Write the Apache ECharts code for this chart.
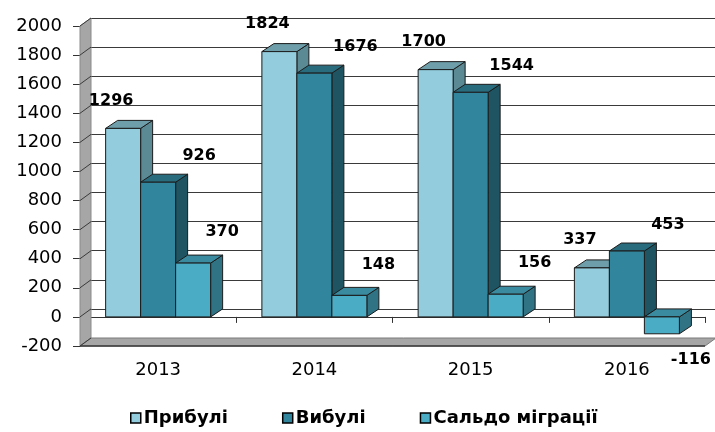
<!DOCTYPE html>
<html>
<head>
<meta charset="utf-8">
<script src="https://cdn.jsdelivr.net/npm/echarts@6/dist/echarts.min.js"></script>
<style>
html,body{margin:0;padding:0;background:#fff;}
#chart{width:715px;height:432px;}
</style>
</head>
<body>
<div id="chart"></div>
<script>
// ---- data ----
const categories = ['2013', '2014', '2015', '2016'];
const arrivals = [1296, 1824, 1700, 337];
const departures = [926, 1676, 1544, 453];
const netMigration = [370, 148, 156, -116];
const seriesNames = ['Прибулі', 'Вибулі', 'Сальдо міграції'];
const yMin = -200, yMax = 2000, yStep = 200;

// ---- styles ----
const faceColors = [
  { front: '#93CDDD', top: '#6E9EA9', side: '#5B8A94' },
  { front: '#31859C', top: '#286C7E', side: '#1F5563' },
  { front: '#4BACC6', top: '#3A8BA0', side: '#2F7384' }
];
const labelShift = [[-12, -28], [41, -26], [29, -31]];
const BAR_DX = 12, BAR_DY = 8;
const WALL_DX = 11, WALL_DY = 8;
const BAR_FRAC = 0.224;
const FONT = '"DejaVu Sans", sans-serif';

function makeBarRenderer(sIdx) {
  return function (params, api) {
    const cat = api.value(0), v = api.value(1);
    const band = api.size([1, 0])[0];
    const bw = band * BAR_FRAC;
    const cx = api.coord([cat, 0])[0] + (sIdx - 1) * bw;
    const x0 = cx - bw / 2, x1 = cx + bw / 2;
    const yT = api.coord([cat, Math.max(v, 0)])[1];
    const yB = api.coord([cat, Math.min(v, 0)])[1];
    const c = faceColors[sIdx];
    const stroke = { stroke: '#1b1b1b', lineWidth: 1 };
    const sh = labelShift[sIdx];
    const lx = cx + sh[0];
    const ly = v >= 0 ? yT + sh[1] : yB + 26;
    return {
      type: 'group',
      children: [
        { type: 'polygon', shape: { points: [[x1, yT], [x1 + BAR_DX, yT - BAR_DY], [x1 + BAR_DX, yB - BAR_DY], [x1, yB]] },
          style: Object.assign({ fill: c.side }, stroke) },
        { type: 'polygon', shape: { points: [[x0, yT], [x1, yT], [x1 + BAR_DX, yT - BAR_DY], [x0 + BAR_DX, yT - BAR_DY]] },
          style: Object.assign({ fill: c.top }, stroke) },
        { type: 'rect', shape: { x: x0, y: yT, width: bw, height: yB - yT },
          style: Object.assign({ fill: c.front }, stroke) },
        { type: 'text', z2: 100, x: lx, y: ly,
          style: { text: String(v), fill: '#000', font: 'bold 16px ' + FONT, textAlign: 'center', textVerticalAlign: 'middle' } }
      ]
    };
  };
}

function renderWall(params, api) {
  const band = api.size([1, 0])[0];
  const xL = api.coord([0, 0])[0] - band / 2;
  const xR = api.coord([categories.length - 1, 0])[0] + band / 2;
  const yT = api.coord([0, yMax])[1];
  const yB = api.coord([0, yMin])[1];
  const children = [
    { type: 'polygon', shape: { points: [[xL, yT], [xL + WALL_DX, yT - WALL_DY], [xL + WALL_DX, yB - WALL_DY], [xL, yB]] },
      style: { fill: '#A6A6A6', stroke: '#8a8a8a', lineWidth: 1 } },
    { type: 'polygon', shape: { points: [[xL, yB], [xR, yB], [xR + WALL_DX, yB - WALL_DY], [xL + WALL_DX, yB - WALL_DY]] },
      style: { fill: '#A6A6A6', stroke: '#7a7a7a', lineWidth: 1 } },
    { type: 'line', shape: { x1: xL, y1: yB, x2: xR, y2: yB }, style: { stroke: '#3a3a3a', lineWidth: 1.5 } }
  ];
  for (let t = yMin; t <= yMax; t += yStep) {
    const y = api.coord([0, t])[1];
    children.push({ type: 'line', shape: { x1: xL, y1: y, x2: xL + WALL_DX, y2: y - WALL_DY },
      style: { stroke: '#3a3a3a', lineWidth: 1 } });
  }
  return { type: 'group', children: children };
}

const chart = echarts.init(document.getElementById('chart'), null, { renderer: 'canvas' });
const seriesData = [arrivals, departures, netMigration];

const option = {
  animation: false,
  backgroundColor: '#fff',
  grid: [
    { left: 80, right: 10, top: 26, bottom: 86 },
    { left: 91, right: -1, top: 18, bottom: 94 }
  ],
  xAxis: [
    { type: 'category', gridIndex: 0, data: categories,
      axisLine: { onZero: true, lineStyle: { color: '#333', width: 1 } },
      axisTick: { show: true, length: 6, lineStyle: { color: '#333' } },
      axisLabel: { margin: 15, color: '#000', fontSize: 18, fontFamily: FONT },
      splitLine: { show: false } },
    { type: 'category', gridIndex: 1, data: categories, show: false }
  ],
  yAxis: [
    { type: 'value', gridIndex: 0, min: yMin, max: yMax, interval: yStep,
      axisLine: { show: true, lineStyle: { color: '#333' } },
      axisTick: { show: true, length: 7, lineStyle: { color: '#333' } },
      axisLabel: { margin: 18, color: '#000', fontSize: 18, fontFamily: FONT, formatter: (v) => String(v) },
      splitLine: { show: false } },
    { type: 'value', gridIndex: 1, min: yMin, max: yMax, interval: yStep,
      axisLine: { show: false }, axisTick: { show: false }, axisLabel: { show: false },
      splitLine: { show: true, lineStyle: { color: '#3a3a3a', width: 1 } } }
  ],
  legend: {
    data: seriesNames,
    left: 125, top: 404,
    icon: 'rect', itemWidth: 10, itemHeight: 10, itemGap: 54,
    itemStyle: { borderColor: '#000', borderWidth: 1.5 },
    textStyle: { color: '#000', fontSize: 18, fontWeight: 'bold', fontFamily: FONT, padding: [0, 0, 0, -2] }
  },
  series: [
    { type: 'custom', name: '_wall', xAxisIndex: 0, yAxisIndex: 0, z: 1, silent: true,
      renderItem: renderWall, data: [[0, 0]] }
  ].concat(seriesNames.map((name, i) => ({
    type: 'custom', name: name, xAxisIndex: 0, yAxisIndex: 0, z: 3 + i,
    itemStyle: { color: faceColors[i].front },
    renderItem: makeBarRenderer(i),
    encode: { x: 0, y: 1 },
    data: seriesData[i].map((v, k) => [k, v])
  })))
};
chart.setOption(option);
</script>
</body>
</html>
